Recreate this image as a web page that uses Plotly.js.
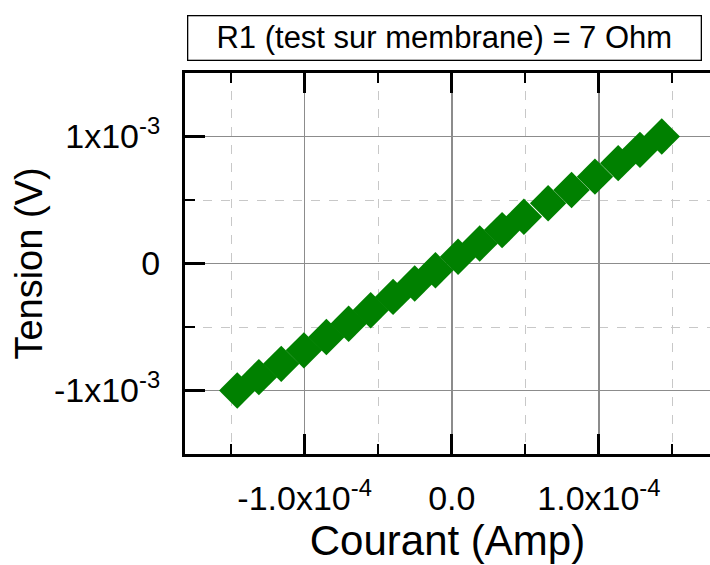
<!DOCTYPE html>
<html>
<head>
<meta charset="utf-8">
<script src="https://cdn.plot.ly/plotly-3.0.1.min.js"></script>
<style>
  html, body { margin: 0; padding: 0; background: #ffffff; overflow: hidden; }
  #chart { width: 710px; height: 565px; }
</style>
</head>
<body>
<div id="chart"></div>
<script>
// Courant (A)
const current = [
  -1.458e-4, -1.311e-4, -1.159e-4, -1.005e-4, -0.852e-4,
  -0.701e-4, -0.551e-4, -0.399e-4, -0.252e-4, -0.111e-4,
   0.043e-4,  0.190e-4,  0.342e-4,  0.490e-4,  0.655e-4,
   0.814e-4,  0.973e-4,  1.131e-4,  1.279e-4,  1.427e-4
];
// Tension (V)
const voltage = [
  -1.000e-3, -0.895e-3, -0.790e-3, -0.684e-3, -0.579e-3,
  -0.474e-3, -0.368e-3, -0.263e-3, -0.158e-3, -0.053e-3,
   0.053e-3,  0.158e-3,  0.263e-3,  0.368e-3,  0.474e-3,
   0.579e-3,  0.684e-3,  0.790e-3,  0.895e-3,  1.000e-3
];

const xTickVals = [-1e-4, 0, 1e-4];
const xTickText = ['-1.0x10<sup>-4</sup>', '0.0', '1.0x10<sup>-4</sup>'];
const xMinorVals = [-1.5e-4, -0.5e-4, 0.5e-4, 1.5e-4];
const yTickVals = [-1e-3, 0, 1e-3];
const yTickText = ['-1x10<sup>-3</sup>', '0', '1x10<sup>-3</sup>'];
const yMinorVals = [-1.5e-3, -0.5e-3, 0.5e-3, 1.5e-3];

const titleText = 'R1 (test sur membrane) = 7 Ohm';
const xTitle = 'Courant (Amp)';
const yTitle = 'Tension (V)';

const FONT = 'Liberation Sans, Arial, sans-serif';

const trace = {
  x: current,
  y: voltage,
  type: 'scatter',
  mode: 'markers',
  marker: { symbol: 'diamond', size: 28, color: '#008000', line: { width: 0 } },
  hoverinfo: 'x+y',
  showlegend: false
};

const axisCommon = {
  showline: true, linewidth: 3, linecolor: '#000000',
  ticks: 'inside', ticklen: 20, tickwidth: 3, tickcolor: '#000000',
  showgrid: true, gridcolor: '#8c8c8c', gridwidth: 1.5,
  zeroline: false,
  tickfont: { family: FONT, size: 34, color: '#000000' },
  tickmode: 'array'
};

const layout = {
  width: 710, height: 565,
  margin: { l: 185, r: 0, t: 73, b: 111, pad: 0 },
  paper_bgcolor: '#ffffff', plot_bgcolor: '#ffffff',
  font: { family: FONT, color: '#000000' },
  xaxis: Object.assign({}, axisCommon, {
    range: [-1.813e-4, 1.755e-4],
    tickvals: xTickVals, ticktext: xTickText,
    mirror: 'ticks',
    ticklabelstandoff: 12,
    minor: { tickmode: 'array', tickvals: xMinorVals, ticks: 'inside', ticklen: 10, tickwidth: 2, tickcolor: '#000000',
             showgrid: true, gridcolor: '#c8c8c8', gridwidth: 1, griddash: 'dash' },
    title: { text: xTitle, font: { family: FONT, size: 42, color: '#000000' }, standoff: 2 }
  }),
  yaxis: Object.assign({}, axisCommon, {
    range: [-1.5e-3, 1.5e-3],
    tickvals: yTickVals, ticktext: yTickText,
    mirror: false,
    ticklabelstandoff: 15,
    minor: { tickmode: 'array', tickvals: yMinorVals, ticks: 'inside', ticklen: 10, tickwidth: 2, tickcolor: '#000000',
             showgrid: true, gridcolor: '#c8c8c8', gridwidth: 1, griddash: 'dash' },
    title: { text: yTitle, font: { family: FONT, size: 38, color: '#000000' }, standoff: 0 }
  }),
  annotations: [{
    text: titleText,
    xref: 'paper', yref: 'paper',
    x: 0.495, y: 1.093, xanchor: 'center', yanchor: 'middle',
    showarrow: false,
    font: { family: FONT, size: 31, color: '#000000' },
    bordercolor: '#000000', borderwidth: 1.3, borderpad: 0,
    width: 512, height: 43
  }]
};

Plotly.newPlot('chart', [trace], layout, { displayModeBar: false, staticPlot: true });
</script>
</body>
</html>
